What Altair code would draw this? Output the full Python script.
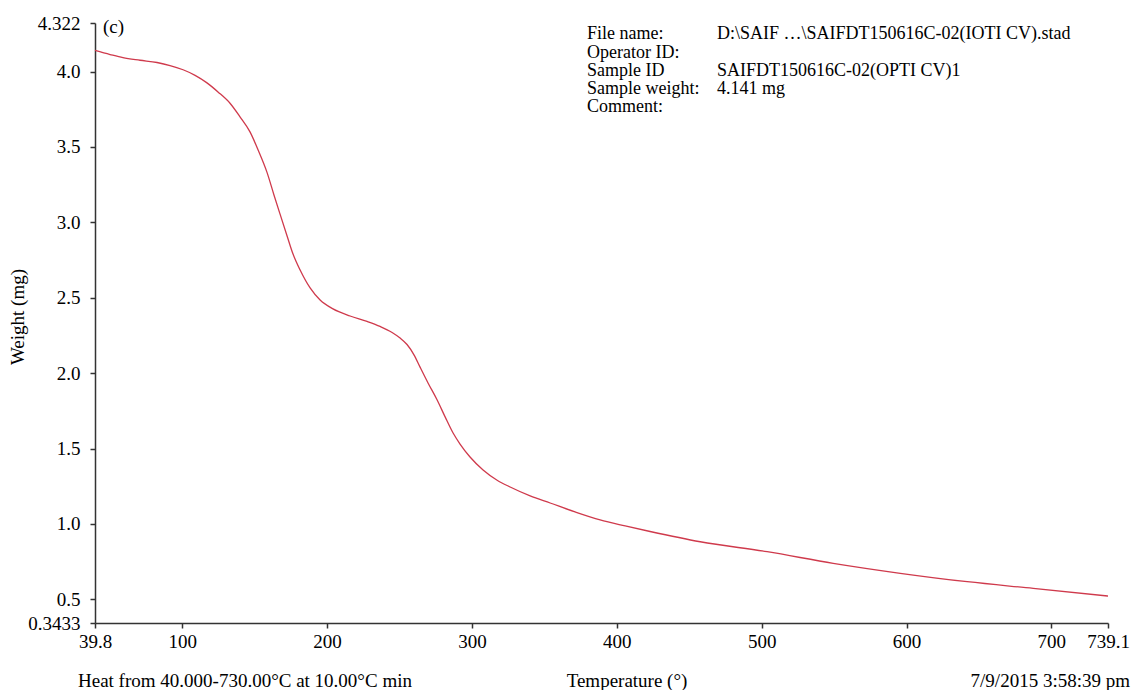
import altair as alt
import pandas as pd

# Thermogram trace
temperature = [39.8, 50.2, 59.1, 70.9, 82.6, 91.6, 100.6, 108.9, 117.1, 124.7, 133.0, 139.9,
               146.8, 152.4, 158.6, 163.4, 167.5, 172.4, 176.5, 181.4, 188.3, 195.2, 204.1,
               215.9, 227.6, 236.6, 244.9, 250.4, 255.2, 260.1, 264.2, 269.7, 276.0, 281.5,
               287.0, 291.8, 298.7, 307.7, 317.4, 326.4, 340.2, 354.0, 371.2, 388.5, 405.8,
               423.0, 457.6, 503.8, 549.4, 595.7, 641.9, 687.5, 739.1]
weight = [4.140, 4.113, 4.092, 4.075, 4.060, 4.040, 4.012, 3.975, 3.925, 3.865, 3.790, 3.700,
          3.600, 3.480, 3.330, 3.180, 3.056, 2.910, 2.790, 2.684, 2.565, 2.485, 2.426,
          2.379, 2.343, 2.310, 2.270, 2.233, 2.190, 2.120, 2.040, 1.935, 1.822, 1.710,
          1.603, 1.530, 1.444, 1.358, 1.290, 1.245, 1.186, 1.139, 1.080, 1.027, 0.987,
          0.950, 0.882, 0.816, 0.739, 0.673, 0.617, 0.573, 0.522]

x_ticks = [39.8, 100, 200, 300, 400, 500, 600, 700, 739.1]
y_ticks = [0.3433, 0.5, 1.0, 1.5, 2.0, 2.5, 3.0, 3.5, 4.0, 4.322]

info_labels = ["File name:", "Operator ID:", "Sample ID", "Sample weight:", "Comment:"]
info_values = ["D:\\SAIF \u2026\\SAIFDT150616C-02(IOTI CV).stad", "", "SAIFDT150616C-02(OPTI CV)1",
               "4.141 mg", ""]

panel_label = "(c)"
y_title = "Weight (mg)"
footer_left = "Heat from 40.000-730.00\u00b0C at 10.00\u00b0C min"
footer_mid = "Temperature (\u00b0)"
footer_right = "7/9/2015 3:58:39 pm"

FONT = "Liberation Serif"

df = pd.DataFrame({"T": temperature, "W": weight})

line = alt.Chart(df).mark_line(color="#cf3a4c", strokeWidth=1.3, interpolate="monotone").encode(
    x=alt.X("T:Q",
            scale=alt.Scale(domain=[39.8, 739.1], nice=False, zero=False),
            axis=alt.Axis(values=x_ticks, title=None, grid=False,
                          labelExpr="datum.value == 39.8 ? '39.8' : datum.value == 739.1 ? '739.1' : format(datum.value, 'd')",
                          labelPadding=4, labelFlush=False, labelOverlap=False)),
    y=alt.Y("W:Q",
            scale=alt.Scale(domain=[0.3433, 4.322], nice=False, zero=False),
            axis=alt.Axis(values=y_ticks, title=None, grid=False,
                          labelExpr="datum.value == 0.3433 ? '0.3433' : datum.value == 4.322 ? '4.322' : format(datum.value, '.1f')",
                          labelPadding=10, labelFlush=False, labelOverlap=False)),
)

one = pd.DataFrame({"k": [0]})


def txt(s, x, y, align="left", angle=0, size=18, baseline="alphabetic"):
    kw = dict(text=s, align=align, baseline=baseline, font=FONT, fontSize=size, color="black")
    if angle:
        kw["angle"] = angle
    return alt.Chart(one).mark_text(**kw).encode(x=alt.value(x), y=alt.value(y))


layers = [line]
layers.append(txt(panel_label, 8, 4, size=19, baseline="middle"))
row_y = [16, 35, 53, 71, 89]
for lab, val, ry in zip(info_labels, info_values, row_y):
    layers.append(txt(lab, 492, ry))
    if val:
        layers.append(txt(val, 622, ry))
layers.append(txt(y_title, -77, 294, align="center", angle=270, size=19, baseline="middle"))
layers.append(txt(footer_left, -17, 664, size=19))
layers.append(txt(footer_mid, 532, 664, align="center", size=19))
layers.append(txt(footer_right, 1035, 664, align="right", size=19))

chart = alt.layer(*layers).properties(
    width=1013, height=600,
    autosize=alt.AutoSizeParams(type="none"),
    padding={"left": 95, "top": 23, "right": 25, "bottom": 67},
    background="white",
).configure_view(stroke=None).configure_axis(
    domainColor="#333333", domainWidth=1.5, tickColor="#333333", tickWidth=1.5, tickSize=5,
    labelFont=FONT, labelFontSize=19, labelColor="black",
)

chart.save("out.html", embed_options={"renderer": "svg", "actions": False})
